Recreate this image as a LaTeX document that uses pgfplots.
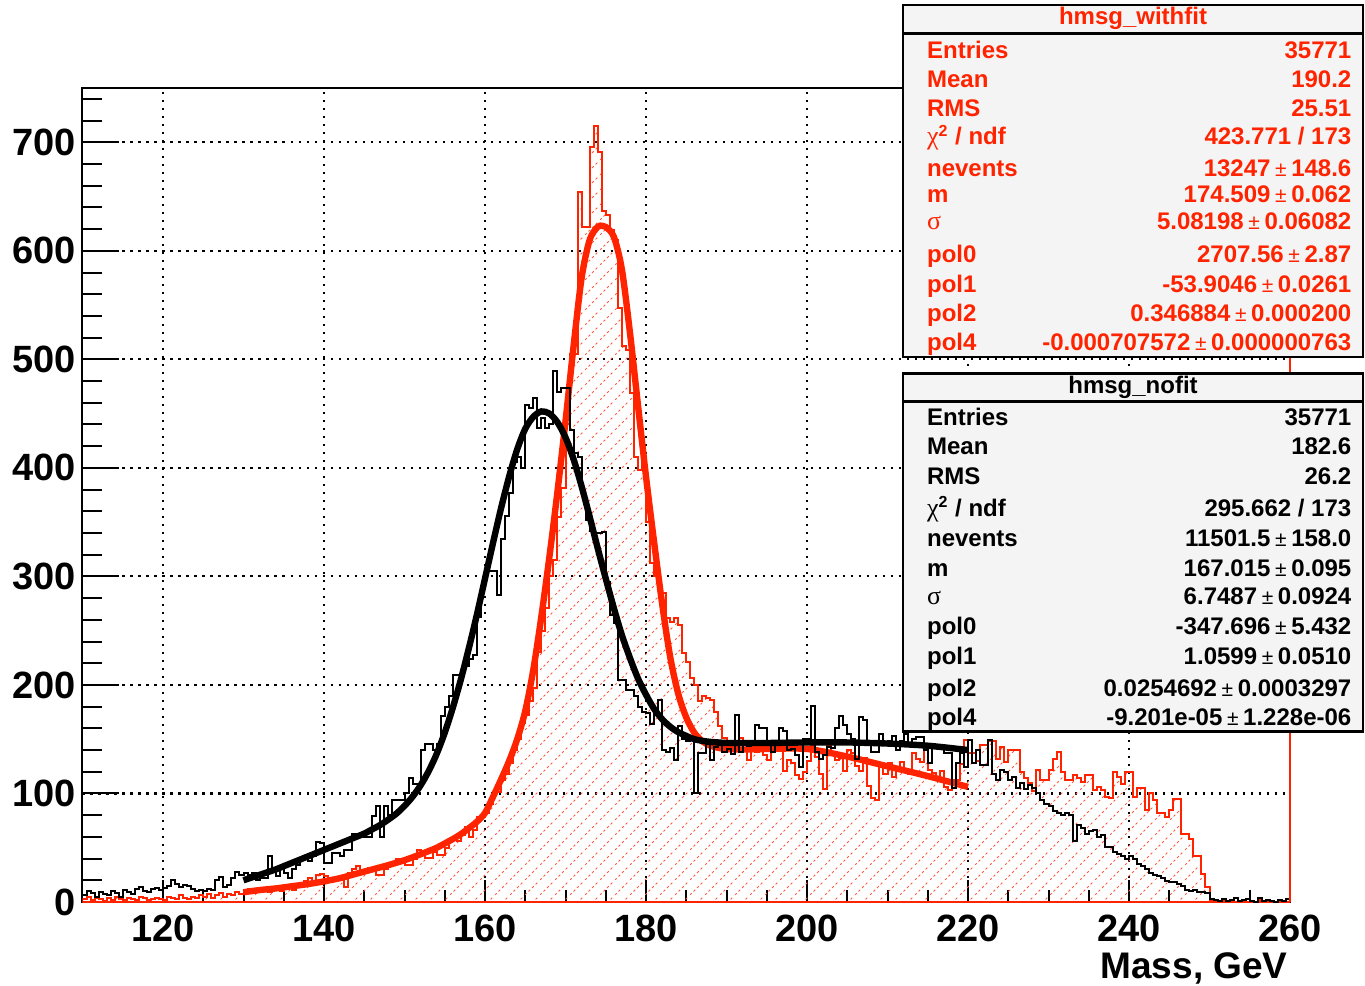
\documentclass[border=0pt]{standalone}
\usepackage{fontspec}
\setmainfont{Liberation Sans}
\newfontfamily\symserif{Liberation Serif}
\usepackage{pgfplots}
\pgfplotsset{compat=1.18}
\usetikzlibrary{patterns.meta}
\definecolor{rootred}{RGB}{255,35,0}
\definecolor{boxgray}{RGB}{244,244,244}
\tikzdeclarepattern{
  name=roothatch,
  type=colored,
  bottom left={(0pt,0pt)},
  top right={(7.5pt,7.5pt)},
  tile size={(7.5pt,7.5pt)},
  code={
    \draw[rootred!75, line width=0.45pt, dash pattern=on 1.3pt off 1.35pt] (0pt,0pt) -- (7.5pt,7.5pt);
  }
}
\newcommand{\pmsym}{{\fontsize{10.5}{10.5}\selectfont\mdseries\hspace{0.22em}±\hspace{0.22em}}}
\newcommand{\statfont}{\fontsize{12}{12}\selectfont\bfseries}
\newcommand{\chisym}{{\symserif\mdseries\fontsize{13}{13}\selectfont χ}}
\newcommand{\sigsym}{{\symserif\mdseries\fontsize{13}{13}\selectfont σ}}
\begin{document}
\begin{tikzpicture}
\path[use as bounding box] (-41.25pt,-41.5pt) rectangle (641.25pt,451pt);
\begin{axis}[
  at={(0pt,0pt)}, anchor=south west,
  width=603.75pt, height=407pt, scale only axis,
  xmin=110, xmax=260, ymin=0, ymax=750,
  xtick={120,140,...,260}, ytick={0,100,...,700},
  minor xtick={110,115,...,260}, minor ytick={0,20,...,740},
  tick align=inside, tick pos=left,
  xmajorgrids, ymajorgrids,
  grid style={black, line width=1.1pt, dash pattern=on 1.1pt off 2.9pt},
  axis line style={black, line width=1pt},
  ticklabel style={font=\fontsize{19}{19}\selectfont\bfseries},
  xticklabel style={yshift=-3pt},
  /pgf/number format/assume math mode=true,
  xtick style={black, line width=1pt, /pgfplots/major tick length=10.8pt, /pgfplots/minor tick length=5.8pt},
  ytick style={black, line width=1pt, /pgfplots/major tick length=18.3pt, /pgfplots/minor tick length=10pt},
]
% hmsg_withfit histogram
\addplot[const plot mark left, draw=rootred, line width=1pt, pattern={roothatch}] coordinates {
(110,3)(110.5,5)(111,2)(111.5,4)(112,3)(112.5,1)(113,4)(113.5,2)(114,5)(114.5,3)
(115,2)(115.5,4)(116,3)(116.5,2)(117,5)(117.5,4)(118,2)(118.5,3)(119,4)(119.5,3)
(120,2)(120.5,5)(121,4)(121.5,3)(122,6)(122.5,4)(123,3)(123.5,5)(124,4)(124.5,6)
(125,5)(125.5,7)(126,4)(126.5,6)(127,8)(127.5,5)(128,7)(128.5,6)(129,9)(129.5,7)
(130,9)(130.5,12)(131,8)(131.5,11)(132,13)(132.5,10)(133,9)(133.5,14)(134,12)(134.5,10)
(135,15)(135.5,13)(136,11)(136.5,16)(137,14)(137.5,19)(138,22)(138.5,17)(139,25)(139.5,26)
(140,24)(140.5,22)(141,20)(141.5,23)(142,21)(142.5,14)(143,27)(143.5,30)(144,33)(144.5,27)
(145,29)(145.5,31)(146,30)(146.5,25)(147,25)(147.5,30)(148,33)(148.5,36)(149,40)(149.5,40)
(150,34)(150.5,34)(151,40)(151.5,48)(152,44)(152.5,41)(153,41)(153.5,46)(154,43)(154.5,43)
(155,50)(155.5,57)(156,57)(156.5,56)(157,62)(157.5,69)(158,60)(158.5,66)(159,78)(159.5,78)
(160,82)(160.5,90)(161,101)(161.5,101)(162,112)(162.5,118)(163,128)(163.5,140)(164,150)(164.5,165)
(165,172)(165.5,185)(166,197)(166.5,230)(167,250)(167.5,271)(168,300)(168.5,315)(169,355)(169.5,381)
(170,440)(170.5,505)(171,505)(171.5,654)(172,622)(172.5,622)(173,696)(173.5,715)(174,691)(174.5,637)
(175,633)(175.5,619)(176,610)(176.5,547)(177,512)(177.5,509)(178,469)(178.5,410)(179,398)(179.5,405)
(180,350)(180.5,312)(181,300)(181.5,288)(182,285)(182.5,262)(183,258)(183.5,262)(184,255)(184.5,229)
(185,221)(185.5,206)(186,200)(186.5,185)(187,190)(187.5,188)(188,186)(188.5,175)(189,162)(189.5,151)
(190,145)(190.5,148)(191,142)(191.5,151)(192,145)(192.5,131)(193,140)(193.5,138)(194,139)(194.5,135)
(195,131)(195.5,144)(196,146)(196.5,140)(197,121)(197.5,131)(198,128)(198.5,117)(199,113)(199.5,120)
(200,130)(200.5,144)(201,134)(201.5,118)(202,104)(202.5,144)(203,137)(203.5,131)(204,133)(204.5,121)
(205,140)(205.5,137)(206,125)(206.5,121)(207,133)(207.5,107)(208,96)(208.5,94)(209,124)(209.5,118)
(210,128)(210.5,115)(211,124)(211.5,129)(212,122)(212.5,118)(213,137)(213.5,132)(214,129)(214.5,140)
(215,122)(215.5,119)(216,112)(216.5,121)(217,106)(217.5,103)(218,112)(218.5,112)(219,127)(219.5,149)
(220,137)(220.5,137)(221,130)(221.5,145)(222,145)(222.5,148)(223,148)(223.5,132)(224,143)(224.5,129)
(225,140)(225.5,140)(226,140)(226.5,120)(227,114)(227.5,110)(228,102)(228.5,122)(229,112)(229.5,112)
(230,122)(230.5,132)(231,138)(231.5,120)(232,112)(232.5,112)(233,117)(233.5,114)(234,111)(234.5,117)
(235,117)(235.5,103)(236,106)(236.5,103)(237,97)(237.5,96)(238,120)(238.5,115)(239,109)(239.5,120)
(240,120)(240.5,97)(241,105)(241.5,105)(242,85)(242.5,100)(243,94)(243.5,82)(244,82)(244.5,78)
(245,85)(245.5,95)(246,95)(246.5,63)(247,63)(247.5,58)(248,42)(248.5,42)(249,26)(249.5,14)
(250,2)(250.5,1)(251,0)(251.5,1)(252,0)(252.5,2)(253,0)(253.5,1)(254,0)(254.5,0)
(255,1)(255.5,0)(256,2)(256.5,0)(257,0)(257.5,1)(258,0)(258.5,0)(259,1)(259.5,0)(260,0)
} \closedcycle;
% fit to hmsg_withfit
\addplot[smooth, rootred, line width=3.2pt] coordinates {
(130,9)(132,11)(134,12.5)(136,14.5)(138,16.5)(140,19)(142,22)(144,26)(146,30)(148,34)
(150,38.5)(152,44)(154,50)(156,58)(157,62.5)(158,68)(159,74)(160,82)(161,97)(162,113)
(163,130)(164,150)(165,176)(166,214)(167,263)(168,318)(169,378)(170,443)(171,512)(172,575)
(173,610)(174,622)(174.6,623)(175,622)(176,613)(177,583)(178,525)(179,458)(180,392)(181,332)
(182,275)(183,226)(184,192)(185,170)(186,156)(187,148)(188,144)(189,142)(190,141)(192,140.5)
(195,141)(200,141)(205,134)(210,125)(215,116)(220,106)
};
% hmsg_nofit histogram
\addplot[const plot mark left, draw=black, line width=1pt] coordinates {
(110,6)(110.5,10)(111,8)(111.5,5)(112,9)(112.5,7)(113,6)(113.5,10)(114,8)(114.5,5)
(115,11)(115.5,9)(116,7)(116.5,12)(117,14)(117.5,10)(118,9)(118.5,12)(119,13)(119.5,11)
(120,13)(120.5,15)(121,20)(121.5,17)(122,14)(122.5,16)(123,15)(123.5,12)(124,10)(124.5,11)
(125,10)(125.5,12)(126,11)(126.5,20)(127,23)(127.5,14)(128,16)(128.5,22)(129,28)(129.5,25)
(130,27)(130.5,25)(131,27)(131.5,20)(132,22)(132.5,22)(133,42)(133.5,28)(134,24)(134.5,30)
(135,27)(135.5,22)(136,30)(136.5,34)(137,39)(137.5,40)(138,38)(138.5,42)(139,55)(139.5,54)
(140,36)(140.5,36)(141,45)(141.5,45)(142,42)(142.5,48)(143,48)(143.5,63)(144,63)(144.5,63)
(145,60)(145.5,60)(146,79)(146.5,88)(147,60)(147.5,88)(148,80)(148.5,94)(149,94)(149.5,94)
(150,100)(150.5,114)(151,109)(151.5,109)(152,140)(152.5,146)(153,146)(153.5,140)(154,146)(154.5,171)
(155,180)(155.5,190)(156,209)(156.5,209)(157,212)(157.5,217)(158,224)(158.5,228)(159,263)(159.5,290)
(160,305)(160.5,305)(161,305)(161.5,283)(162,334)(162.5,356)(163,377)(163.5,405)(164,410)(164.5,400)
(165,458)(165.5,455)(166,464)(166.5,437)(167,446)(167.5,437)(168,440)(168.5,489)(169,470)(169.5,474)
(170,474)(170.5,435)(171,414)(171.5,410)(172,374)(172.5,352)(173,342)(173.5,340)(174,340)(174.5,341)
(175,295)(175.5,264)(176,257)(176.5,205)(177,205)(177.5,195)(178,195)(178.5,190)(179,180)(179.5,175)
(180,174)(180.5,164)(181,174)(181.5,186)(182,140)(182.5,138)(183,142)(183.5,131)(184,162)(184.5,150)
(185,148)(185.5,152)(186,100)(186.5,137)(187,137)(187.5,146)(188,131)(188.5,143)(189,145)(189.5,138)
(190,141)(190.5,136)(191,172)(191.5,138)(192,146)(192.5,144)(193,147)(193.5,163)(194,160)(194.5,160)
(195,146)(195.5,138)(196,146)(196.5,160)(197,158)(197.5,140)(198,141)(198.5,135)(199,124)(199.5,150)
(200,150)(200.5,181)(201,138)(201.5,132)(202,135)(202.5,143)(203,142)(203.5,160)(204,171)(204.5,163)
(205,155)(205.5,150)(206,132)(206.5,170)(207,168)(207.5,145)(208,138)(208.5,138)(209,155)(209.5,147)
(210,148)(210.5,153)(211,140)(211.5,148)(212,155)(212.5,146)(213,150)(213.5,152)(214,152)(214.5,140)
(215,128)(215.5,144)(216,144)(216.5,144)(217,137)(217.5,137)(218,105)(218.5,128)(219,137)(219.5,124)
(220,149)(220.5,128)(221,140)(221.5,126)(222,126)(222.5,149)(223,118)(223.5,112)(224,122)(224.5,120)
(225,112)(225.5,115)(226,105)(226.5,110)(227,104)(227.5,108)(228,105)(228.5,100)(229,94)(229.5,90)
(230,88)(230.5,84)(231,82)(231.5,80)(232,82)(232.5,80)(233,56)(233.5,71)(234,68)(234.5,63)
(235,65)(235.5,66)(236,60)(236.5,62)(237,51)(237.5,51)(238,46)(238.5,44)(239,42)(239.5,40)
(240,42)(240.5,40)(241,35)(241.5,33)(242,30)(242.5,27)(243,25)(243.5,24)(244,22)(244.5,19)
(245,18)(245.5,18)(246,17)(246.5,15)(247,11)(247.5,10)(248,11)(248.5,9)(249,9)(249.5,8)
(250,3)(250.5,2)(251,1)(251.5,3)(252,1)(252.5,2)(253,4)(253.5,1)(254,2)(254.5,3)
(255,1)(255.5,0)(256,4)(256.5,1)(257,2)(257.5,1)(258,0)(258.5,2)(259,1)(259.5,3)(260,3)
};
% fit to hmsg_nofit
\addplot[smooth, black, line width=3.2pt] coordinates {
(130,20)(131,22.5)(132,25)(133,27.5)(134,30)(135,33)(136,36)(137,39)(138,42)(139,45)
(140,48)(141,51)(142,54)(143,57)(144,60)(145,63)(146,67)(147,71)(148,76)(149,81.5)
(150,88.5)(151,97)(152,107.5)(153,120.5)(154,136.5)(155,156)(156,179)(157,205)(158,234)(159,265)
(160,298)(161,331)(162,363)(163,392)(164,417)(165,436)(166,447)(167,452)(168,450)(169,442)
(170,428)(171,408)(172,383)(173,355)(174,326)(175,298)(176,271)(177,246)(178,225)(179,206)
(180,191)(181,178)(182,168.5)(183,161.5)(184,156.5)(185,153)(186,150)(187,148.5)(188,147.5)(189,147)
(190,146.5)(192,146.5)(195,146.5)(200,147)(205,147)(210,146)(215,144)(220,140)
};
\end{axis}
% right frame edge (red in the original)
\draw[rootred, line width=1pt] (603.75pt,0pt) -- (603.75pt,407pt);
% x axis title
\node[anchor=base east, inner sep=0pt, font=\fontsize{18.5}{18.5}\selectfont\bfseries] at (602.75pt,-38pt) {Mass, GeV};
% ---- stats box: hmsg_withfit ----
\draw[line width=1.2pt, fill=boxgray] (410.2pt,272.6pt) rectangle (640.3pt,448.5pt);
\draw[line width=1.2pt] (410.2pt,434.3pt) -- (640.3pt,434.3pt);
\begin{scope}[every node/.style={inner sep=0pt, text=rootred, font=\statfont}]
\node[anchor=base] at (525.25pt,438.5pt) {hmsg\_withfit};
\node[anchor=base west] at (422.1pt,421.85pt) {Entries};
\node[anchor=base east] at (634.6pt,421.85pt) {35771};
\node[anchor=base west] at (422.1pt,407.15pt) {Mean};
\node[anchor=base east] at (634.6pt,407.15pt) {190.2};
\node[anchor=base west] at (422.1pt,392.65pt) {RMS};
\node[anchor=base east] at (634.6pt,392.65pt) {25.51};
\node[anchor=base west] at (422.1pt,378.5pt) {\chisym\textsuperscript{2} / ndf};
\node[anchor=base east] at (634.6pt,378.5pt) {423.771 / 173};
\node[anchor=base west] at (422.1pt,362.65pt) {nevents};
\node[anchor=base east] at (634.6pt,362.65pt) {13247\pmsym148.6};
\node[anchor=base west] at (422.1pt,349.65pt) {m};
\node[anchor=base east] at (634.6pt,349.65pt) {174.509\pmsym0.062};
\node[anchor=base west] at (422.1pt,336pt) {\sigsym};
\node[anchor=base east] at (634.6pt,336pt) {5.08198\pmsym0.06082};
\node[anchor=base west] at (422.1pt,319.65pt) {pol0};
\node[anchor=base east] at (634.6pt,319.65pt) {2707.56\pmsym2.87};
\node[anchor=base west] at (422.1pt,304.65pt) {pol1};
\node[anchor=base east] at (634.6pt,304.65pt) {-53.9046\pmsym0.0261};
\node[anchor=base west] at (422.1pt,290.15pt) {pol2};
\node[anchor=base east] at (634.6pt,290.15pt) {0.346884\pmsym0.000200};
\node[anchor=base west] at (422.1pt,275.65pt) {pol4};
\node[anchor=base east] at (634.6pt,275.65pt) {-0.000707572\pmsym0.000000763};
\end{scope}
% ---- stats box: hmsg_nofit ----
\draw[line width=1.2pt, fill=boxgray] (410.2pt,85.2pt) rectangle (640.3pt,264.3pt);
\draw[line width=1.2pt] (410.2pt,250.2pt) -- (640.3pt,250.2pt);
\begin{scope}[every node/.style={inner sep=0pt, text=black, font=\statfont}]
\node[anchor=base] at (525.25pt,254.3pt) {hmsg\_nofit};
\node[anchor=base west] at (422.1pt,238pt) {Entries};
\node[anchor=base east] at (634.6pt,238pt) {35771};
\node[anchor=base west] at (422.1pt,223.5pt) {Mean};
\node[anchor=base east] at (634.6pt,223.5pt) {182.6};
\node[anchor=base west] at (422.1pt,208.8pt) {RMS};
\node[anchor=base east] at (634.6pt,208.8pt) {26.2};
\node[anchor=base west] at (422.1pt,192.7pt) {\chisym\textsuperscript{2} / ndf};
\node[anchor=base east] at (634.6pt,192.7pt) {295.662 / 173};
\node[anchor=base west] at (422.1pt,177.7pt) {nevents};
\node[anchor=base east] at (634.6pt,177.7pt) {11501.5\pmsym158.0};
\node[anchor=base west] at (422.1pt,162.7pt) {m};
\node[anchor=base east] at (634.6pt,162.7pt) {167.015\pmsym0.095};
\node[anchor=base west] at (422.1pt,148.8pt) {\sigsym};
\node[anchor=base east] at (634.6pt,148.8pt) {6.7487\pmsym0.0924};
\node[anchor=base west] at (422.1pt,133.5pt) {pol0};
\node[anchor=base east] at (634.6pt,133.5pt) {-347.696\pmsym5.432};
\node[anchor=base west] at (422.1pt,118.5pt) {pol1};
\node[anchor=base east] at (634.6pt,118.5pt) {1.0599\pmsym0.0510};
\node[anchor=base west] at (422.1pt,102.7pt) {pol2};
\node[anchor=base east] at (634.6pt,102.7pt) {0.0254692\pmsym0.0003297};
\node[anchor=base west] at (422.1pt,88pt) {pol4};
\node[anchor=base east] at (634.6pt,88pt) {-9.201e-05\pmsym1.228e-06};
\end{scope}
\end{tikzpicture}
\end{document}
